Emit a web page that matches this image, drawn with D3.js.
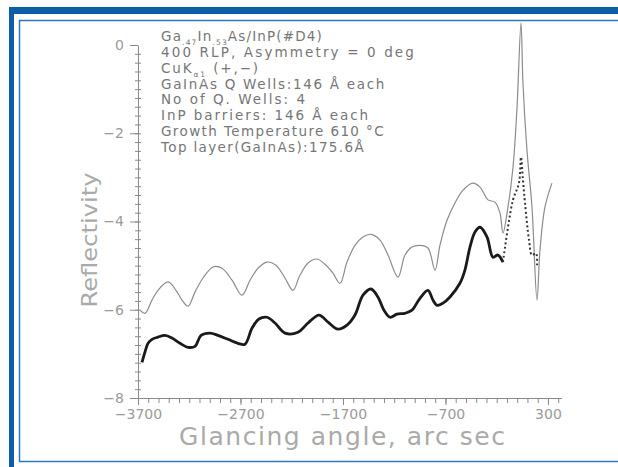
<!DOCTYPE html>
<html lang="en">
<head>
    <meta charset="UTF-8">
    <title>Reflectivity vs glancing angle</title>
    <style>
        body {
            margin: 0;
            background: #fff;
        }

        .axis path,
        .axis line {
            stroke: #8a8a8a;
            stroke-width: 1;
        }

        .axis text {
            fill: #9a9a9a;
            font: 14px "DejaVu Sans", sans-serif;
        }

        .note {
            fill: #767676;
            font: 13.5px "DejaVu Sans", sans-serif;
        }

        .title {
            fill: #aaaaaa;
            font-family: "DejaVu Sans", sans-serif;
        }
    </style>
</head>
<body>
<div id="chart"></div>

<script src="https://cdn.jsdelivr.net/npm/d3@7"></script>
<script>

    // glancing angle (arc sec) and log reflectivity
    var theoryX = [-3680, -3632, -3563, -3505, -3407, -3329, -3271, -3212, -3144, -3066, -2968, -2880, -2783, -2685,
        -2607, -2529, -2441, -2354, -2266, -2188, -2120, -2041, -1954, -1876, -1798, -1729, -1661, -1583, -1505,
        -1427, -1339, -1261, -1163, -1095, -1027, -949, -871, -802, -754, -685, -607, -529, -432, -363, -285,
        -217, -168, -139, -90, -41, -3, 37, 56, 95, 144, 193, 222, 271, 339]
    var theoryY = [-6.01, -6.08, -5.78, -5.56, -5.37, -5.56, -5.78, -5.92, -5.60, -5.28, -5.03, -5.06, -5.33, -5.67,
        -5.33, -5.06, -4.92, -4.99, -5.28, -5.56, -5.22, -4.94, -4.85, -4.97, -5.17, -5.40, -4.92, -4.54, -4.35,
        -4.29, -4.42, -4.76, -5.26, -4.76, -4.58, -4.54, -4.60, -5.10, -4.54, -3.97, -3.58, -3.29, -3.13, -3.22,
        -3.51, -3.56, -3.81, -4.26, -3.67, -2.77, -1.47, 0.50, -0.86, -2.38, -3.67, -5.78, -4.65, -3.67, -3.13]

    var measX = [-3661, -3632, -3602, -3563, -3505, -3437, -3368, -3290, -3212, -3144, -3085, -2998, -2920, -2822,
        -2724, -2656, -2588, -2520, -2441, -2363, -2266, -2139, -2041, -1934, -1846, -1749, -1661, -1583, -1505,
        -1427, -1359, -1300, -1241, -1173, -1095, -1027, -949, -871, -822, -783, -724, -656, -559, -510, -461,
        -412, -363, -295, -237, -188, -139, -90, -41, 17, 37, 56, 76, 115, 144, 183, 193]
    var measY = [-7.19, -6.96, -6.76, -6.67, -6.62, -6.58, -6.64, -6.76, -6.85, -6.83, -6.58, -6.53, -6.58, -6.67,
        -6.76, -6.78, -6.42, -6.21, -6.17, -6.30, -6.53, -6.51, -6.30, -6.12, -6.28, -6.44, -6.35, -6.12, -5.67,
        -5.53, -5.71, -6.01, -6.17, -6.10, -6.08, -6.01, -5.74, -5.56, -5.78, -5.90, -5.85, -5.71, -5.40, -5.10,
        -4.58, -4.24, -4.13, -4.35, -4.81, -4.76, -4.92, -4.13, -3.51, -3.13, -2.54, -3.06, -3.58, -4.42, -4.76,
        -4.72, -5.03]

    var xMajor = [-3700, -2700, -1700, -700, 300]
    var yMajor = [0, -2, -4, -6, -8]

    var notes = [
        [["Ga"], [".47", "sub"], ["In"], [".53", "sub"], ["As/InP(#D4)"]],
        [["400 RLP, Asymmetry = 0 deg"]],
        [["CuK"], ["α1", "sub"], [" (+,\u2212)"]],
        [["GaInAs Q Wells:146 Å each"]],
        [["No of Q. Wells: 4"]],
        [["InP barriers: 146 Å each"]],
        [["Growth Temperature 610 °C"]],
        [["Top layer(GaInAs):175.6Å"]]
    ]
    var noteWidths = [162, 255, 99, 225, 146, 209, 224, 204]

    var width = 618, height = 467

    var svg = d3.select("#chart").append("svg")
        .attr("width", width)
        .attr("height", height)

    // blue frame
    svg.append("rect").attr("x", 9).attr("y", 7).attr("width", width - 9).attr("height", 7).attr("fill", "#0b5fa7")
    svg.append("rect").attr("x", 9).attr("y", 7).attr("width", 5).attr("height", height - 7).attr("fill", "#0b5fa7")
    svg.append("path")
        .attr("d", "M" + (width + 2) + ",20.5H19.5V461.5H" + (width + 2))
        .attr("fill", "none")
        .attr("stroke", "#2f78bf")
        .attr("stroke-width", 1.5)

    var x = d3.scaleLinear().domain([-3700, 437]).range([138, 562])
    var y = d3.scaleLinear().domain([-8, 0]).range([398, 45])

    svg.append("defs").append("clipPath").attr("id", "clip")
        .append("rect").attr("x", 0).attr("y", 0).attr("width", 562).attr("height", height)

    var plot = svg.append("g").attr("clip-path", "url(#clip)")

    // x axis: minor ticks every 100, majors every 1000
    plot.append("g").attr("class", "axis")
        .attr("transform", "translate(0," + y(-8) + ")")
        .call(d3.axisBottom(x).tickValues(d3.range(-3700, 437, 100)).tickSize(5).tickSizeOuter(0).tickFormat(""))
    plot.append("g").attr("class", "axis")
        .attr("transform", "translate(0," + y(-8) + ")")
        .call(d3.axisBottom(x).tickValues(xMajor).tickSize(7).tickPadding(4).tickSizeOuter(0).tickFormat(d3.format("d")))
        .call(function (g) { g.select(".domain").remove() })

    // y axis: minor ticks every 0.2
    svg.append("g").attr("class", "axis")
        .attr("transform", "translate(" + x(-3700) + ",0)")
        .call(d3.axisLeft(y).tickValues(d3.range(0, 40, 1).map(function (i) { return -8 + i * 0.2 })).tickSize(3).tickSizeOuter(0).tickFormat(""))
        .call(function (g) { g.selectAll(".tick line").attr("x2", 3).attr("x1", -3) })
    svg.append("g").attr("class", "axis")
        .attr("transform", "translate(" + x(-3700) + ",0)")
        .call(d3.axisLeft(y).tickValues(yMajor).tickSize(8).tickPadding(6).tickSizeOuter(0).tickFormat(d3.format("d")))
        .call(function (g) { g.select(".domain").remove() })

    // curves
    var theory = theoryX.map(function (v, i) { return [v, theoryY[i]] })
    var meas = measX.map(function (v, i) { return [v, measY[i]] })

    var line = d3.line()
        .x(function (d) { return x(d[0]) })
        .y(function (d) { return y(d[1]) })
        .curve(d3.curveCatmullRom.alpha(0.5))

    plot.append("path")
        .datum(theory)
        .attr("d", line)
        .attr("fill", "none")
        .attr("stroke", "#8c8c8c")
        .attr("stroke-width", 1.2)

    var split = measX.indexOf(-139)
    plot.append("path")
        .datum(meas.slice(0, split + 1))
        .attr("d", line)
        .attr("fill", "none")
        .attr("stroke", "#1a1a1a")
        .attr("stroke-width", 2.8)
        .attr("stroke-linejoin", "round")
    plot.append("path")
        .datum(meas.slice(split))
        .attr("d", line)
        .attr("fill", "none")
        .attr("stroke", "#333")
        .attr("stroke-width", 2)
        .attr("stroke-dasharray", "2,2.5")

    // annotation block
    notes.forEach(function (parts, i) {
        var t = svg.append("text")
            .attr("class", "note")
            .attr("x", 161)
            .attr("y", 41 + i * 15.85)
        parts.forEach(function (p, k) {
            var s = t.append("tspan").text(p[0])
            if (p[1] === "sub") s.attr("font-size", "7.5px").attr("dy", 4)
            else if (k > 0) s.attr("dy", -4)
        })
        var n = t.node()
        var chars = n.textContent.length
        var w = n.getComputedTextLength()
        t.attr("letter-spacing", ((noteWidths[i] - w) / chars) + "px")
    })

    // axis titles
    svg.append("text")
        .attr("class", "title")
        .attr("transform", "translate(97,240) rotate(-90)")
        .attr("text-anchor", "middle")
        .attr("font-size", 22)
        .attr("textLength", 135)
        .attr("lengthAdjust", "spacingAndGlyphs")
        .text("Reflectivity")

    svg.append("text")
        .attr("class", "title")
        .attr("x", 342)
        .attr("y", 445)
        .attr("text-anchor", "middle")
        .attr("font-size", 25)
        .attr("textLength", 326)
        .attr("lengthAdjust", "spacing")
        .text("Glancing angle, arc sec")

</script>
</body>
</html>
